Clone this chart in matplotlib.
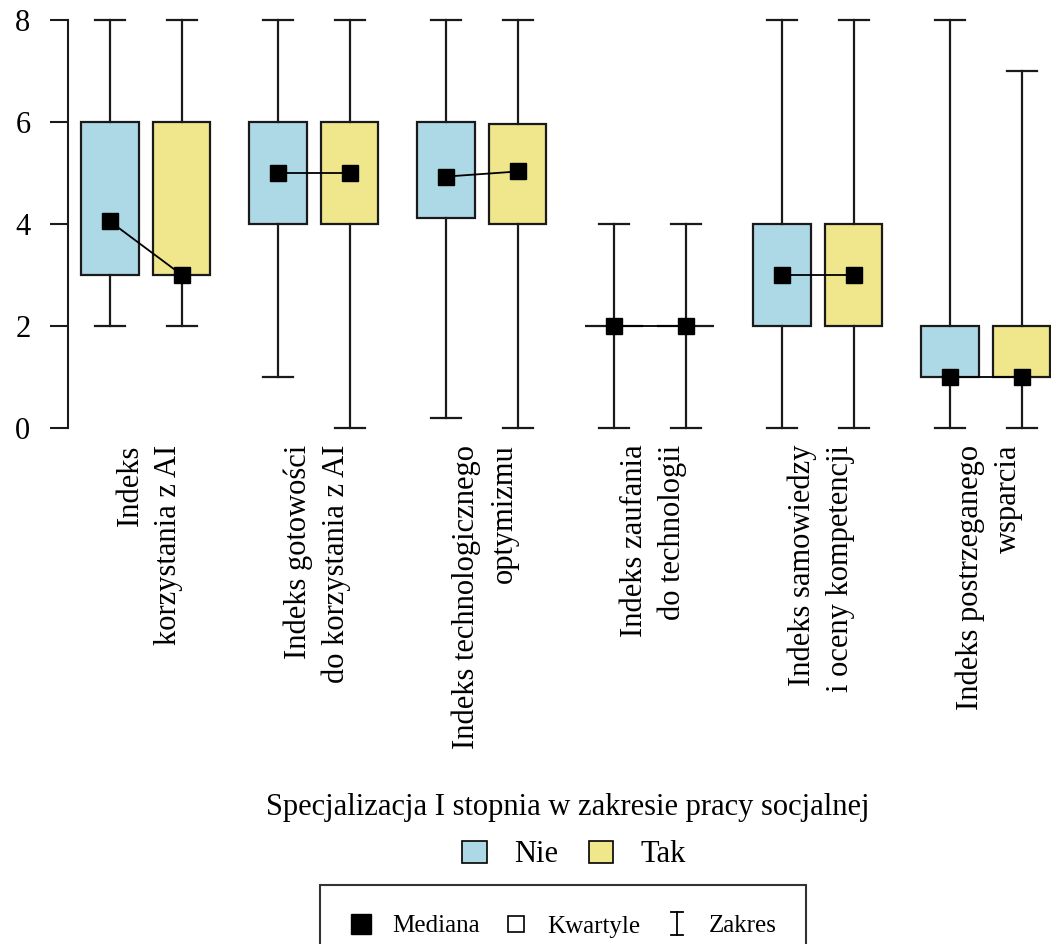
import matplotlib
matplotlib.use("Agg")
import matplotlib.pyplot as plt
from matplotlib.patches import Patch
from matplotlib.lines import Line2D
from matplotlib.legend_handler import HandlerBase
import numpy as np

# dane
kategorie = [
    "Indeks\nkorzystania z AI",
    "Indeks gotowości\ndo korzystania z AI",
    "Indeks technologicznego\noptymizmu",
    "Indeks zaufania\ndo technologii",
    "Indeks samowiedzy\ni oceny kompetencji",
    "Indeks postrzeganego\nwsparcia",
]
nie_min = [2, 1, 0.2, 0, 0, 0]
nie_q1 = [3, 4, 4.12, 2, 2, 1]
nie_med = [4.05, 5, 4.93, 2, 3, 1]
nie_q3 = [6, 6, 6, 2, 4, 2]
nie_max = [8, 8, 8, 4, 8, 8]

tak_min = [2, 0, 0, 0, 0, 0]
tak_q1 = [3, 4, 4, 2, 2, 1]
tak_med = [3, 5, 5.03, 2, 3, 1]
tak_q3 = [6, 6, 5.96, 2, 4, 2]
tak_max = [8, 8, 8, 4, 8, 7]

grupy = ["Nie", "Tak"]
kolory = ["#ADD8E6", "#F0E68C"]

plt.rcParams['font.family'] = ['Liberation Serif', 'DejaVu Serif']

LINIA = "#1a1a1a"


def staty(mn, q1, med, q3, mx):
    return [dict(whislo=a, q1=b, med=c, q3=d, whishi=e, fliers=[])
            for a, b, c, d, e in zip(mn, q1, med, q3, mx)]


class HandlerZakres(HandlerBase):
    """Symbol zakresu (I) w legendzie"""
    def create_artists(self, legend, orig_handle, xdescent, ydescent,
                       width, height, fontsize, trans):
        cx = width / 2 - xdescent
        h = height * 1.3
        y0 = -ydescent + (height - h) / 2
        w = width * 0.55
        kw = dict(color="black", lw=1.3, transform=trans)
        return [Line2D([cx, cx], [y0, y0 + h], **kw),
                Line2D([cx - w / 2, cx + w / 2], [y0, y0], **kw),
                Line2D([cx - w / 2, cx + w / 2], [y0 + h, y0 + h], **kw)]


fig = plt.figure(figsize=(10.51, 9.44), dpi=100)
ax = fig.add_axes([68 / 1051, 1 - 428 / 944, 1 - 68 / 1051, 408 / 944])

x = np.arange(len(kategorie))
offset = 0.214
dane = [staty(nie_min, nie_q1, nie_med, nie_q3, nie_max),
        staty(tak_min, tak_q1, tak_med, tak_q3, tak_max)]

for k, (st, kolor) in enumerate(zip(dane, kolory)):
    poz = x + (offset if k else -offset)
    art = ax.bxp(st, positions=poz, widths=0.34, capwidths=0.18,
                 patch_artist=True, showfliers=False,
                 boxprops=dict(facecolor=kolor, edgecolor=LINIA, linewidth=1.6),
                 whiskerprops=dict(color=LINIA, linewidth=1.6),
                 capprops=dict(color=LINIA, linewidth=1.6),
                 medianprops=dict(linewidth=0))
    for lst in art.values():
        for a in lst:
            a.set_clip_on(False)

# mediany połączone linią w każdej grupie
for i in x:
    ax.plot([i - offset, i + offset], [nie_med[i], tak_med[i]],
            color="black", lw=1.3, marker="s", markersize=12,
            markerfacecolor="black", markeredgecolor="black",
            zorder=5, clip_on=False)

ax.set_xlim(-0.464, 5.387)
ax.set_ylim(0, 8)
ax.set_yticks([0, 2, 4, 6, 8])
ax.tick_params(axis="y", length=13, width=1.5, pad=14, labelsize=22, color=LINIA)
ax.set_xticks(x + 0.02)
ax.set_xticklabels(kategorie, rotation=90, ha="center", va="top", fontsize=22,
                   linespacing=1.4)
for lab in ax.get_xticklabels():
    lab.set_multialignment("right")
ax.tick_params(axis="x", length=0, pad=12)

for s in ["top", "right", "bottom"]:
    ax.spines[s].set_visible(False)
ax.spines["left"].set_linewidth(1.5)
ax.spines["left"].set_color(LINIA)

# legendy
fig.text(568 / 1051, 1 - 808 / 944, "Specjalizacja I stopnia w zakresie pracy socjalnej",
         ha="center", va="center", fontsize=22)

uchwyty = [Patch(facecolor=c, edgecolor="black", linewidth=1.2) for c in kolory]
leg1 = fig.legend(uchwyty, grupy, loc="center", bbox_to_anchor=(574 / 1051, 1 - 855 / 944),
                  ncol=2, frameon=False, fontsize=22, handlelength=0.8,
                  handleheight=0.7, handletextpad=0.9, columnspacing=1.0)

h_med = Line2D([], [], linestyle="none", marker="s", markersize=14,
               markerfacecolor="black", markeredgecolor="black")
h_kw = Line2D([], [], linestyle="none", marker="s", markersize=12,
              markerfacecolor="white", markeredgecolor="black", markeredgewidth=1.2)
h_zak = object()
leg2 = fig.legend([h_med, h_kw, h_zak], ["Mediana", "Kwartyle", "Zakres"],
                  handler_map={object: HandlerZakres()},
                  loc="upper left", bbox_to_anchor=(320 / 1051, 1 - 885 / 944),
                  ncol=3, frameon=True, fancybox=False, fontsize=18,
                  handlelength=0.9, handletextpad=0.8, columnspacing=1.0,
                  borderpad=1.2, borderaxespad=0)
leg2.get_frame().set_edgecolor("black")
leg2.get_frame().set_linewidth(1.5)

fig.savefig("out.png", dpi=100)
